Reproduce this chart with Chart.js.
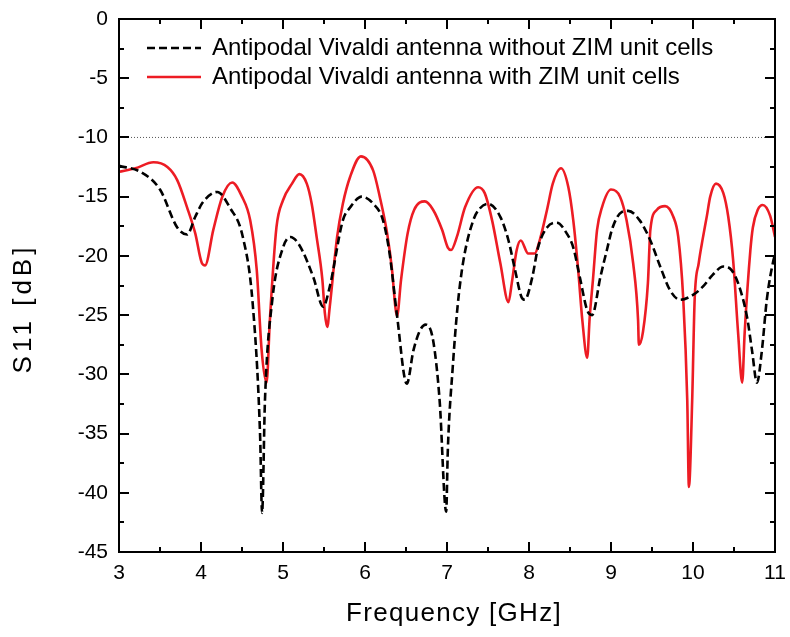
<!DOCTYPE html>
<html>
<head>
<meta charset="utf-8">
<script src="https://cdn.jsdelivr.net/npm/chart.js@4.4.1/dist/chart.umd.min.js"></script>
<style>
  html, body { margin: 0; padding: 0; background: #ffffff; }
  #wrap { width: 790px; height: 637px; position: relative; }
</style>
</head>
<body>
<div id="wrap"><canvas id="c"></canvas></div>
<script>
// ---- data ----
const seriesLabels = [
  "Antipodal Vivaldi antenna without ZIM unit cells",
  "Antipodal Vivaldi antenna with ZIM unit cells"
];
const withoutFreq = [3.0,3.26,3.5,3.71,3.83,3.93,4.02,4.2,4.35,4.51,4.63,4.72,4.745,4.78,4.87,5.0,5.09,5.2,5.37,5.49,5.57,5.73,5.82,5.96,6.1,6.22,6.3,6.39,6.51,6.59,6.67,6.74,6.83,6.91,6.99,7.01,7.07,7.13,7.2,7.32,7.4,7.5,7.65,7.75,7.83,7.91,7.95,8.04,8.11,8.22,8.34,8.46,8.54,8.62,8.71,8.77,8.87,8.95,9.02,9.13,9.21,9.35,9.48,9.6,9.72,9.84,10.0,10.12,10.24,10.37,10.47,10.55,10.66,10.72,10.78,10.84,10.9,10.98,11.0];
const withoutS11  = [-12.4,-12.9,-14.4,-17.6,-18.2,-16.7,-15.5,-14.6,-15.9,-18.4,-24.0,-35.0,-41.7,-32.2,-23.7,-19.3,-18.4,-19.1,-21.8,-24.3,-22.6,-17.0,-15.9,-15.0,-15.6,-17.0,-19.8,-25.0,-30.8,-28.0,-26.3,-25.8,-27.1,-32.2,-41.6,-36.4,-29.4,-24.2,-20.4,-17.0,-16.0,-15.6,-16.7,-18.7,-21.2,-23.5,-23.7,-21.8,-19.3,-17.6,-17.2,-18.1,-19.3,-21.8,-24.6,-25.0,-21.8,-19.5,-17.6,-16.3,-16.2,-17.0,-18.7,-20.9,-22.9,-23.7,-23.3,-22.6,-21.6,-20.9,-21.2,-22.3,-25.2,-28.0,-30.7,-28.0,-23.7,-20.4,-19.9];
const withFreq = [3.0,3.2,3.42,3.59,3.71,3.83,3.93,4.01,4.05,4.15,4.26,4.38,4.5,4.6,4.68,4.74,4.8,4.84,4.92,5.0,5.11,5.2,5.29,5.35,5.41,5.48,5.51,5.54,5.57,5.66,5.73,5.82,5.95,6.1,6.18,6.27,6.33,6.37,6.39,6.44,6.52,6.6,6.73,6.83,6.94,7.01,7.05,7.12,7.22,7.38,7.46,7.55,7.65,7.75,7.79,7.85,7.9,7.99,8.07,8.13,8.22,8.29,8.39,8.48,8.54,8.6,8.65,8.71,8.74,8.78,8.83,8.89,9.0,9.11,9.19,9.27,9.33,9.34,9.39,9.45,9.48,9.56,9.66,9.76,9.82,9.88,9.93,9.95,9.99,10.02,10.07,10.12,10.17,10.21,10.28,10.37,10.43,10.49,10.55,10.6,10.63,10.7,10.73,10.79,10.85,10.94,11.0];
const withS11  = [-12.9,-12.6,-12.1,-12.5,-13.6,-15.9,-18.1,-20.6,-20.8,-17.8,-15.0,-13.8,-15.0,-17.0,-21.2,-28.0,-30.7,-25.4,-17.6,-15.3,-13.9,-13.1,-13.9,-15.6,-18.4,-22.0,-24.8,-26.0,-24.3,-18.4,-15.6,-13.3,-11.6,-12.8,-15.0,-18.1,-21.2,-24.3,-25.1,-22.0,-18.1,-16.1,-15.4,-16.1,-17.8,-19.3,-19.5,-18.4,-15.9,-14.2,-14.7,-17.0,-20.6,-23.9,-22.3,-19.5,-18.7,-19.8,-19.8,-18.7,-16.1,-13.9,-12.6,-14.2,-17.0,-21.2,-25.4,-28.6,-25.2,-22.0,-17.8,-15.9,-14.4,-15.0,-17.0,-20.6,-25.4,-27.5,-26.4,-22.3,-17.8,-16.1,-15.8,-16.7,-18.4,-23.5,-32.2,-39.5,-32.2,-23.7,-20.6,-18.5,-16.6,-15.0,-13.9,-14.7,-16.7,-20.4,-26.5,-30.7,-26.5,-19.5,-17.6,-16.1,-15.7,-16.6,-18.4];
const thresholdFreq = [3, 11];
const thresholdS11 = [-10, -10];
const xTickRange = [3, 11];
const yTickRange = [-45, 0];
const xTitle = "Frequency [GHz]";
const yTitle = "S11 [dB]";

const toPts = (xs, ys) => xs.map((x, i) => ({ x: x, y: ys[i] }));

const FONT = "'Liberation Sans', Arial, Helvetica, sans-serif";

// frame with inward major + minor ticks on all four sides
const framePlugin = {
  id: 'frame',
  afterDatasetsDraw(chart) {
    const { ctx, chartArea: a, scales: { x, y } } = chart;
    ctx.save();
    ctx.strokeStyle = '#000';
    ctx.lineWidth = 2;
    ctx.lineCap = 'butt';
    ctx.beginPath();
    for (let v = xTickRange[0]; v <= xTickRange[1] + 1e-9; v += 0.5) {
      const px = Math.round(x.getPixelForValue(v));
      const len = Math.abs(v - Math.round(v)) < 1e-9 ? 10 : 5;
      ctx.moveTo(px, a.bottom); ctx.lineTo(px, a.bottom - len);
      ctx.moveTo(px, a.top); ctx.lineTo(px, a.top + len);
    }
    for (let v = yTickRange[0]; v <= yTickRange[1] + 1e-9; v += 2.5) {
      const py = Math.round(y.getPixelForValue(v));
      const len = Math.abs(v / 5 - Math.round(v / 5)) < 1e-9 ? 10 : 5;
      ctx.moveTo(a.left, py); ctx.lineTo(a.left + len, py);
      ctx.moveTo(a.right, py); ctx.lineTo(a.right - len, py);
    }
    ctx.stroke();
    ctx.strokeRect(a.left, a.top, a.right - a.left, a.bottom - a.top);
    ctx.restore();
  }
};

// legend drawn inside the plot area, top-left
const legendPlugin = {
  id: 'insideLegend',
  afterDatasetsDraw(chart) {
    const { ctx, chartArea: a } = chart;
    ctx.save();
    ctx.font = "24px " + FONT;
    ctx.textBaseline = 'middle';
    ctx.textAlign = 'left';
    let row = 0;
    chart.data.datasets.forEach(ds => {
      if (!ds.inLegend) return;
      const yy = a.top + 29 + row * 29;
      ctx.strokeStyle = ds.borderColor;
      ctx.lineWidth = ds.borderWidth;
      ctx.setLineDash(ds.borderDash || []);
      ctx.beginPath();
      ctx.moveTo(a.left + 28, yy);
      ctx.lineTo(a.left + 82, yy);
      ctx.stroke();
      ctx.setLineDash([]);
      ctx.fillStyle = '#000';
      ctx.fillText(ds.label, a.left + 93, yy);
      row++;
    });
    ctx.restore();
  }
};

// axis titles (drawn with letter spacing like the reference)
const titlePlugin = {
  id: 'axisTitles',
  afterDraw(chart) {
    const { ctx, chartArea: a } = chart;
    ctx.save();
    ctx.fillStyle = '#000';
    ctx.font = "26px " + FONT;
    ctx.textAlign = 'center';
    ctx.textBaseline = 'middle';
    ctx.letterSpacing = '1.3px';
    ctx.fillText(xTitle, (a.left + a.right) / 2 + 7, a.bottom + 62);
    ctx.letterSpacing = '4px';
    ctx.translate(24, (a.top + a.bottom) / 2 + 23);
    ctx.rotate(-Math.PI / 2);
    ctx.fillText(yTitle, 0, 0);
    ctx.restore();
  }
};

new Chart(document.getElementById('c'), {
  type: 'line',
  data: {
    datasets: [
      {
        label: 'threshold',
        data: toPts(thresholdFreq, thresholdS11),
        borderColor: '#555',
        borderWidth: 1,
        borderDash: [1, 2],
        pointRadius: 0,
        inLegend: false
      },
      {
        label: seriesLabels[0],
        data: toPts(withoutFreq, withoutS11),
        borderColor: '#000000',
        borderWidth: 2.6,
        borderDash: [8, 4],
        pointRadius: 0,
        cubicInterpolationMode: 'monotone',
        inLegend: true
      },
      {
        label: seriesLabels[1],
        data: toPts(withFreq, withS11),
        borderColor: '#ED1C24',
        borderWidth: 2.6,
        pointRadius: 0,
        cubicInterpolationMode: 'monotone',
        inLegend: true
      }
    ]
  },
  options: {
    responsive: true,
    maintainAspectRatio: false,
    animation: false,
    layout: { padding: { left: 0, top: 19, right: 15, bottom: 0 } },
    plugins: {
      legend: { display: false },
      tooltip: { enabled: false }
    },
    scales: {
      x: {
        type: 'linear',
        min: xTickRange[0], max: xTickRange[1],
        grid: { display: false, drawTicks: false },
        border: { display: false },
        ticks: { stepSize: 1, padding: 9, color: '#000', font: { family: FONT, size: 21 } },
        title: { display: false, text: xTitle },
        afterFit(s) { s.height = 85; s.paddingLeft = 0; s.paddingRight = 0; }
      },
      y: {
        type: 'linear',
        min: yTickRange[0], max: yTickRange[1],
        grid: { display: false, drawTicks: false },
        border: { display: false },
        ticks: { stepSize: 5, padding: 11, color: '#000', font: { family: FONT, size: 21 } },
        title: { display: false, text: yTitle },
        afterFit(s) { s.width = 119; s.paddingTop = 0; s.paddingBottom = 0; }
      }
    }
  },
  plugins: [framePlugin, legendPlugin, titlePlugin]
});
</script>
</body>
</html>
